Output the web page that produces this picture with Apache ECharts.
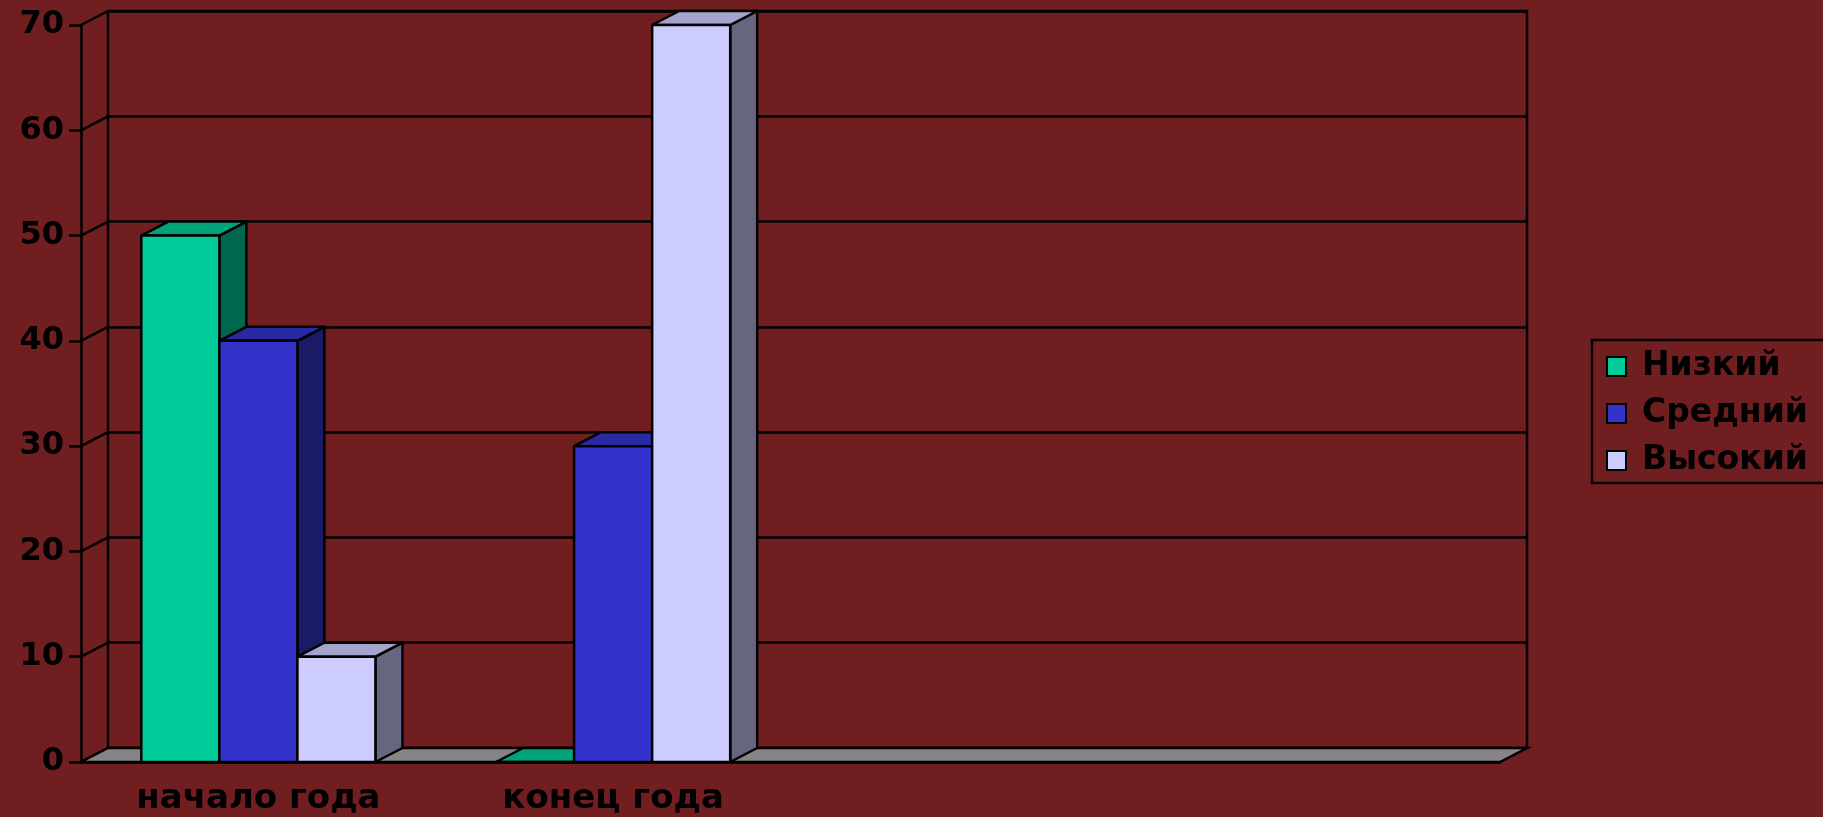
<!DOCTYPE html>
<html>
<head>
<meta charset="utf-8">
<script src="https://cdn.jsdelivr.net/npm/echarts@6/dist/echarts.min.js"></script>
<style>
html,body{margin:0;padding:0;background:#711e20;}
#chart{width:1823px;height:817px;}
</style>
</head>
<body>
<div id="chart"></div>
<script>
// данные диаграммы
var categories = ['начало года', 'конец года', '', ''];
var seriesNames = ['Низкий', 'Средний', 'Высокий'];
var lowValues = [50, 0];
var midValues = [40, 30];
var highValues = [10, 70];
var yTicks = [0, 10, 20, 30, 40, 50, 60, 70];

var DX = 27, DY = 14;      // смещение задней стенки (псевдо 3D)
var GAP = 0.34;            // промежуток между группами
var LW = 2.5;              // толщина линий
var FONT = 'DejaVu Sans';
var colors = [
	{front: '#00cc99', top: '#00a37a', side: '#00664c'},
	{front: '#3333cc', top: '#2929a3', side: '#1a1a66'},
	{front: '#ccccff', top: '#a3a3cc', side: '#666680'}
];

var chart = echarts.init(document.getElementById('chart'));

function barRender(si) {
	return function (params, api) {
		var idx = api.value(0), val = api.value(1);
		var base = api.coord([idx, 0]);
		var top = api.coord([idx, val]);
		var band = api.size([1, 0])[0];
		var bw = band * (1 - GAP) / 3;
		var x0 = base[0] - band * (1 - GAP) / 2 + si * bw;
		var x1 = x0 + bw, ty = top[1], by = base[1];
		var c = colors[si];
		var line = {stroke: '#000', lineWidth: LW, lineJoin: 'round'};
		return {
			type: 'group',
			children: [
				{type: 'polygon', shape: {points: [[x1, ty], [x1 + DX, ty - DY], [x1 + DX, by - DY], [x1, by]]},
					style: Object.assign({fill: c.side}, line)},
				{type: 'polygon', shape: {points: [[x0, ty], [x1, ty], [x1 + DX, ty - DY], [x0 + DX, ty - DY]]},
					style: Object.assign({fill: c.top}, line)},
				{type: 'rect', shape: {x: x0, y: ty, width: bw, height: by - ty},
					style: Object.assign({fill: c.front}, line)}
			]
		};
	};
}

function barSeries(si, values) {
	return {
		name: seriesNames[si],
		type: 'custom',
		xAxisIndex: 0, yAxisIndex: 0,
		z: 5,
		itemStyle: {color: colors[si].front},
		renderItem: barRender(si),
		data: values.map(function (v, i) { return [i, v]; })
	};
}

option = {
	backgroundColor: '#711e20',
	animation: false,
	textStyle: {fontFamily: FONT},
	legend: {
		orient: 'vertical',
		left: 1592, top: 340,
		padding: [10, 80, 6, 14],
		itemGap: 14,
		itemWidth: 19, itemHeight: 19,
		icon: 'rect',
		borderColor: '#000', borderWidth: LW,
		itemStyle: {borderColor: '#000', borderWidth: 2},
		textStyle: {color: '#000', fontSize: 33, fontWeight: 'bold', fontFamily: FONT, padding: [0, 0, 0, 11]},
		data: seriesNames
	},
	grid: [
		{left: 81, top: 25, right: 323, bottom: 55},
		{left: 81 + DX, top: 25 - DY, right: 323 - DX, bottom: 55 + DY,
			show: true, borderColor: '#000', borderWidth: LW, backgroundColor: 'transparent'}
	],
	xAxis: [
		{type: 'category', gridIndex: 0, data: categories,
			axisLine: {lineStyle: {color: '#000', width: LW}},
			axisTick: {length: 11, lineStyle: {color: '#000', width: LW}},
			axisLabel: {color: '#000', fontSize: 34, fontWeight: 'bold', fontFamily: FONT, margin: 20}},
		{type: 'category', gridIndex: 1, data: categories, show: false}
	],
	yAxis: [
		{type: 'value', gridIndex: 0, min: 0, max: 70, interval: 10,
			axisLine: {show: true, lineStyle: {color: '#000', width: LW}},
			axisTick: {show: true, length: 12, lineStyle: {color: '#000', width: LW}},
			splitLine: {show: false},
			axisLabel: {color: '#000', fontSize: 32, fontWeight: 'bold', fontFamily: FONT, margin: 17}},
		{type: 'value', gridIndex: 1, min: 0, max: 70, interval: 10,
			axisLine: {show: false}, axisTick: {show: false}, axisLabel: {show: false},
			splitLine: {show: true, lineStyle: {color: '#000', width: LW}}}
	],
	series: [
		// левая стенка: диагонали от делений оси к задней стенке
		{type: 'custom', xAxisIndex: 0, yAxisIndex: 0, z: 1, silent: true,
			renderItem: function (params, api) {
				var p = api.coord([0, api.value(0)]);
				var x = params.coordSys.x;
				return {type: 'line', shape: {x1: x, y1: p[1], x2: x + DX, y2: p[1] - DY},
					style: {stroke: '#000', lineWidth: LW}};
			},
			data: yTicks.map(function (v) { return [v]; })},
		// пол
		{type: 'custom', xAxisIndex: 0, yAxisIndex: 0, z: 2, silent: true,
			renderItem: function (params, api) {
				var cs = params.coordSys;
				var y = api.coord([0, 0])[1];
				return {type: 'polygon',
					shape: {points: [[cs.x, y], [cs.x + cs.width, y], [cs.x + cs.width + DX, y - DY], [cs.x + DX, y - DY]]},
					style: {fill: '#858585', stroke: '#000', lineWidth: LW}};
			},
			data: [[0]]},
		barSeries(0, lowValues),
		barSeries(1, midValues),
		barSeries(2, highValues)
	]
};
chart.setOption(option);
</script>
</body>
</html>
